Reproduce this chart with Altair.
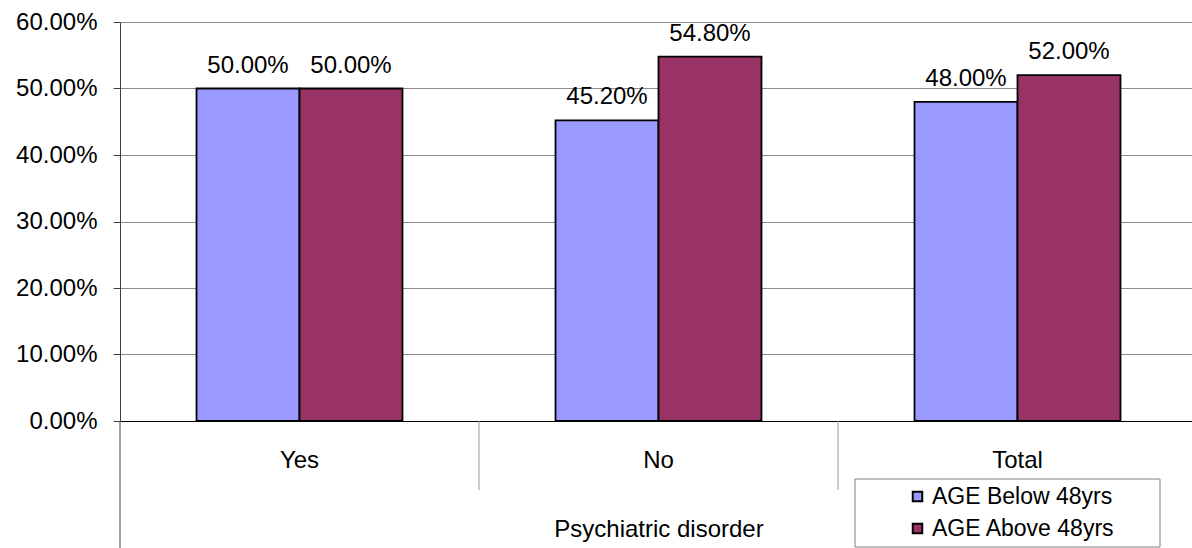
import altair as alt
import pandas as pd

categories = ["Yes", "No", "Total"]
series = ["AGE Below 48yrs", "AGE Above 48yrs"]
below = [0.50, 0.452, 0.48]
above = [0.50, 0.548, 0.52]
colors = ["#9999FF", "#993366"]
y_ticks = [0, 0.1, 0.2, 0.3, 0.4, 0.5, 0.6]

rows = []
for c, b, a in zip(categories, below, above):
    rows.append({"cat": c, "series": series[0], "value": b})
    rows.append({"cat": c, "series": series[1], "value": a})
df = pd.DataFrame(rows)

font = "Liberation Sans"
xscale = alt.Scale(domain=categories, paddingInner=0, paddingOuter=0)
yscale = alt.Scale(domain=[0, 0.6])
offscale = alt.Scale(domain=series, paddingInner=0, paddingOuter=0.743)

xaxis = alt.Axis(
    title="Psychiatric disorder", labelAngle=0, ticks=False, tickSize=0,
    labelPadding=46, labelBaseline="alphabetic", labelFontSize=24, labelFont=font,
    labelColor="black", domainColor="black", domainWidth=1, titleFont=font,
    titleFontSize=24, titleFontWeight="normal", titleColor="black", titleY=115,
    titleBaseline="alphabetic", grid=False,
)
yaxis = alt.Axis(
    title=None, values=y_ticks, format=".2%", labelFontSize=24, labelFont=font,
    labelColor="black", labelPadding=16, tickSize=7, tickColor="#404040",
    domainColor="#404040", gridColor="#8c8c8c", grid=True,
)


def xenc(**kw):
    return alt.X("cat:N", scale=xscale, sort=categories, axis=xaxis, **kw)


y = alt.Y("value:Q", scale=yscale, axis=yaxis)
xoff = alt.XOffset("series:N", scale=offscale, sort=series)

bars = alt.Chart(df).mark_bar(stroke="black", strokeWidth=1.8).encode(
    x=xenc(),
    xOffset=xoff,
    y=y,
    color=alt.Color(
        "series:N", sort=series,
        scale=alt.Scale(domain=series, range=colors),
        legend=alt.Legend(
            title=None, orient="none", legendX=786, legendY=463,
            symbolType="square", symbolSize=90, symbolStrokeColor="black",
            symbolStrokeWidth=2, symbolOpacity=1, labelFontSize=23, labelFont=font,
            labelColor="black", labelOffset=3, labelLimit=400, rowPadding=8,
            padding=0,
        ),
    ),
)

labels = alt.Chart(df).mark_text(
    dy=-16, baseline="alphabetic", fontSize=24, font=font, color="black"
).encode(
    x=xenc(),
    xOffset=xoff,
    y=y,
    text=alt.Text("value:Q", format=".2%"),
)

rule_first = alt.Chart(pd.DataFrame({"cat": ["Yes"]})).mark_rule(
    color="#404040", strokeWidth=1
).encode(x=xenc(bandPosition=0), y=alt.value(399), y2=alt.value(526))

rule_others = alt.Chart(pd.DataFrame({"cat": ["No", "Total"]})).mark_rule(
    color="#999999", strokeWidth=1
).encode(x=xenc(bandPosition=0), y=alt.value(399), y2=alt.value(468))

legend_box = alt.Chart(alt.Data(values=[{}])).mark_rect(
    fill="white", stroke="#808080", strokeWidth=1
).encode(x=alt.value(735), x2=alt.value(1040), y=alt.value(457), y2=alt.value(525))

chart = alt.layer(bars, labels, rule_first, rule_others, legend_box).properties(
    width=1077, height=399,
    padding={"left": 120, "top": 22, "right": -5, "bottom": 127},
    autosize=alt.AutoSizeParams(type="none"),
).configure_view(stroke=None)

chart.save("out.html", embed_options={"renderer": "svg", "actions": False})
